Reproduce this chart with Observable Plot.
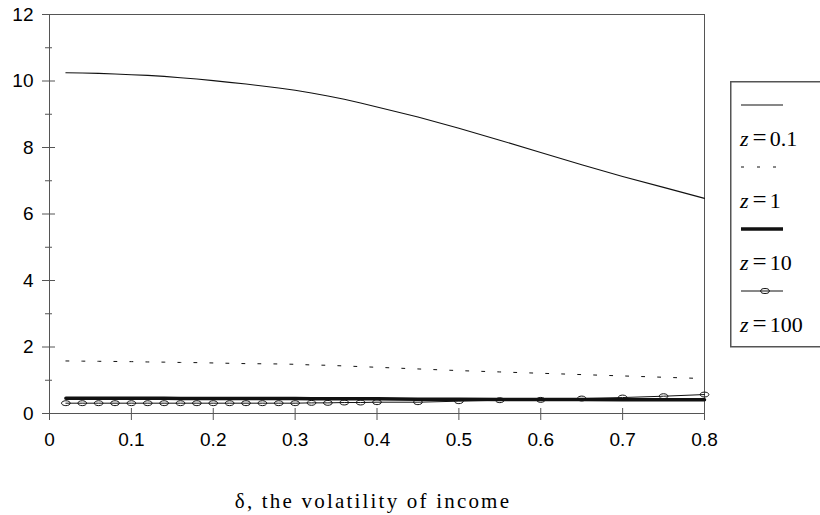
<!DOCTYPE html>
<html>
<head>
<meta charset="utf-8">
<script src="https://cdn.jsdelivr.net/npm/d3@7"></script>
<script src="https://cdn.jsdelivr.net/npm/@observablehq/plot@0.6"></script>
<style>
  html, body { margin: 0; padding: 0; background: #fff; }
  #wrap { position: relative; width: 820px; height: 515px; overflow: hidden; }
  #legend { position: absolute; left: 730px; top: 81px; }
</style>
</head>
<body>
<div id="wrap"></div>
<script>
// Income volatility (delta) on the x axis
const delta = [0.02, 0.04, 0.06, 0.08, 0.10, 0.12, 0.14, 0.16, 0.18, 0.20,
               0.22, 0.24, 0.26, 0.28, 0.30, 0.32, 0.34, 0.36, 0.38, 0.40,
               0.45, 0.50, 0.55, 0.60, 0.65, 0.70, 0.75, 0.80];

// One series per value of z
const zValues = ["0.1", "1", "10", "100"];
const seriesZ01 = [10.25, 10.24, 10.23, 10.21, 10.19, 10.17, 10.14, 10.10, 10.06, 10.01,
                   9.96, 9.91, 9.85, 9.79, 9.72, 9.64, 9.55, 9.45, 9.34, 9.22,
                   8.92, 8.58, 8.22, 7.85, 7.48, 7.13, 6.80, 6.47];
const seriesZ1 = [1.58, 1.575, 1.57, 1.565, 1.56, 1.55, 1.545, 1.535, 1.53, 1.52,
                  1.51, 1.50, 1.495, 1.49, 1.48, 1.46, 1.45, 1.43, 1.41, 1.39,
                  1.34, 1.29, 1.25, 1.21, 1.17, 1.13, 1.09, 1.05];
const seriesZ10 = [0.46, 0.46, 0.46, 0.46, 0.46, 0.46, 0.46, 0.45, 0.45, 0.45,
                   0.45, 0.45, 0.45, 0.45, 0.45, 0.44, 0.44, 0.44, 0.44, 0.44,
                   0.43, 0.43, 0.42, 0.42, 0.42, 0.41, 0.41, 0.41];
const seriesZ100 = [0.31, 0.31, 0.31, 0.31, 0.31, 0.31, 0.31, 0.31, 0.31, 0.31,
                    0.31, 0.31, 0.31, 0.31, 0.31, 0.32, 0.32, 0.33, 0.33, 0.34,
                    0.34, 0.37, 0.40, 0.41, 0.45, 0.48, 0.52, 0.57];

// Axis ticks
const xTicks = [0, 0.1, 0.2, 0.3, 0.4, 0.5, 0.6, 0.7, 0.8];
const yMajor = [0, 2, 4, 6, 8, 10, 12];
const yMinor = [1, 3, 5, 7, 9, 11];
const xTitle = "\u03b4, the volatility of income";

const rows = (ys) => delta.map((x, i) => ({x, y: ys[i]}));
const dZ01 = rows(seriesZ01), dZ1 = rows(seriesZ1), dZ10 = rows(seriesZ10), dZ100 = rows(seriesZ100);

// Flattened open ellipse used as the marker of the z = 100 series
const ellipse = {
  draw(ctx, size) {
    const r = Math.sqrt(size / Math.PI), rx = r * 1.25, ry = r * 0.7, k = 0.5523;
    ctx.moveTo(rx, 0);
    ctx.bezierCurveTo(rx, ry * k, rx * k, ry, 0, ry);
    ctx.bezierCurveTo(-rx * k, ry, -rx, ry * k, -rx, 0);
    ctx.bezierCurveTo(-rx, -ry * k, -rx * k, -ry, 0, -ry);
    ctx.bezierCurveTo(rx * k, -ry, rx, -ry * k, rx, 0);
    ctx.closePath();
  }
};

const axisColor = "#555";
const ink = "#111";
const serif = "'Liberation Serif', 'DejaVu Serif', serif";

const chart = Plot.plot({
  width: 820,
  height: 515,
  marginLeft: 49,
  marginRight: 116,
  marginTop: 14,
  marginBottom: 102,
  style: {fontFamily: "'Liberation Sans', Arial, sans-serif", background: "white", color: "black"},
  x: {domain: [0, 0.8]},
  y: {domain: [0, 12]},
  marks: [
    Plot.frame({stroke: axisColor}),
    // ticks crossing the axes
    Plot.axisY({ticks: yMajor, tickSize: 13, dx: 6, text: null, stroke: axisColor, label: null}),
    Plot.axisY({ticks: yMinor, tickSize: 7, dx: 3, text: null, stroke: axisColor, label: null}),
    Plot.axisY({ticks: yMajor, tickSize: 0, tickPadding: 16, fontSize: 19, fill: "black", label: null}),
    Plot.axisX({ticks: xTicks, tickSize: 12, dy: -5, text: null, stroke: axisColor, label: null}),
    Plot.axisX({ticks: xTicks, tickSize: 0, tickPadding: 19, fontSize: 19, fill: "black", label: null,
                tickFormat: (d) => d === 0 ? "0" : d3.format(".1f")(d)}),
    // series
    Plot.line(dZ01, {x: "x", y: "y", stroke: ink, strokeWidth: 1.1}),
    Plot.line(dZ1, {x: "x", y: "y", stroke: ink, strokeWidth: 1, strokeDasharray: "3,13"}),
    Plot.line(dZ100, {x: "x", y: "y", stroke: ink, strokeWidth: 1}),
    Plot.dot(dZ100, {x: "x", y: "y", r: 3.5, symbol: ellipse, stroke: ink, strokeWidth: 1, fill: "none"}),
    Plot.line(dZ10, {x: "x", y: "y", stroke: ink, strokeWidth: 3.5}),
    // x axis title
    Plot.text([xTitle], {frameAnchor: "bottom", dx: -4, dy: 94, lineAnchor: "bottom",
                         fontFamily: serif, fontSize: 21,
                         fill: "black", text: (d) => d})
  ]
});

// widen the tracking of the axis title
d3.select(chart).selectAll('g[aria-label="text"] text').style("letter-spacing", "2.2px");

const wrap = document.getElementById("wrap");
wrap.appendChild(chart);

// Legend: swatch line above each label "z = value"
const legend = d3.select(wrap).append("svg")
  .attr("id", "legend")
  .attr("width", 100)
  .attr("height", 268);

legend.append("rect")
  .attr("x", 0.75).attr("y", 0.75)
  .attr("width", 120).attr("height", 265)
  .attr("fill", "white").attr("stroke", axisColor).attr("stroke-width", 1.5);

const swatchStyles = [
  {width: 1.1, dash: null, marker: false},
  {width: 1, dash: "3,13", marker: false},
  {width: 3.5, dash: null, marker: false},
  {width: 1, dash: null, marker: true}
];

zValues.forEach((z, i) => {
  const top = 24 + i * 62;
  const s = swatchStyles[i];
  const line = legend.append("line")
    .attr("x1", 11).attr("x2", 53)
    .attr("y1", top).attr("y2", top)
    .attr("stroke", ink).attr("stroke-width", s.width);
  if (s.dash) line.attr("stroke-dasharray", s.dash);
  if (s.marker) {
    legend.append("ellipse")
      .attr("cx", 35).attr("cy", top).attr("rx", 4.3).attr("ry", 2.5)
      .attr("fill", "none").attr("stroke", ink).attr("stroke-width", 1);
  }
  const t = legend.append("text")
    .attr("x", 10).attr("y", top + 41)
    .attr("font-family", serif)
    .attr("font-size", 22)
    .attr("fill", "black");
  t.append("tspan").attr("font-style", "italic").text("z");
  t.append("tspan").attr("font-size", 25).attr("dx", 4).text("=");
  t.append("tspan").attr("dx", 3).text(z);
});
</script>
</body>
</html>
